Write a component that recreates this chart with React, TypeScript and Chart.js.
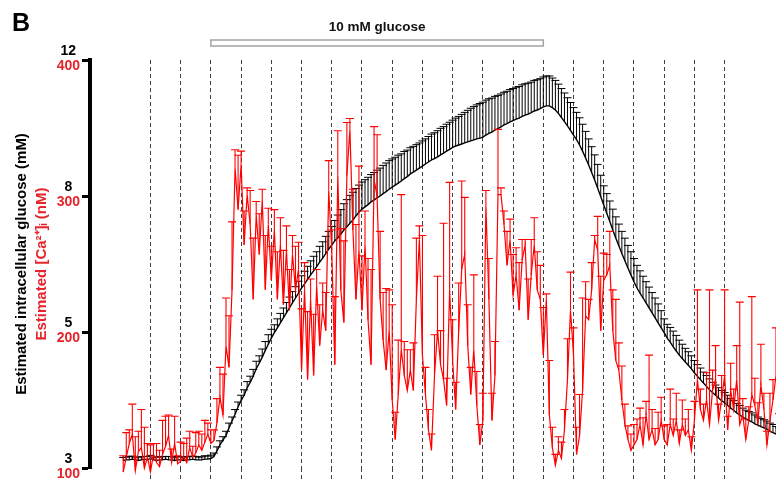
import React, { useEffect, useRef } from 'react';
import { Chart, registerables } from 'chart.js';

Chart.register(...registerables);

// ---------- axis / annotation values ----------
const CA_TICKS = [100, 200, 300, 400];          // nM, red labels
const GLUCOSE_TICKS = [3, 5, 8, 12];            // mM, black labels at the same heights
const X_MIN = 0;
const X_MAX = 22.7;                             // min
const DASH_FROM_MIN = 2;                        // first dashed line (one every minute)
const GLUCOSE_ON_MIN = 4;
const GLUCOSE_OFF_MIN = 15;
const GLUCOSE_LABEL = '10 mM glucose';
const PANEL_LABEL = 'B';
const TITLE_GLUCOSE = 'Estimated intracellular glucose (mM)';
const TITLE_CA = 'Estimated [Ca\u00B2\u207A]\u1D62 (nM)';
const FRAME_START_MIN = 1.1;
const FRAME_STEP_MIN = 0.1;

// ---------- series ----------
const GLUCOSE_MM = [
  3.11, 3.12, 3.12, 3.13, 3.12, 3.11, 3.12, 3.13, 3.12, 3.14, 3.12, 3.11, 3.12, 3.12, 3.13,
  3.12, 3.12, 3.11, 3.12, 3.12, 3.11, 3.12, 3.12, 3.13, 3.12, 3.12, 3.12, 3.13, 3.13, 3.14,
  3.17, 3.25, 3.34, 3.41, 3.48, 3.59, 3.69, 3.79, 3.90, 3.99,
  4.07, 4.18, 4.26, 4.35, 4.46, 4.54, 4.63, 4.73, 4.82, 4.91,
  4.99, 5.09, 5.20, 5.31, 5.42, 5.53, 5.64, 5.75, 5.86, 5.97,
  6.06, 6.16, 6.26, 6.35, 6.44, 6.54, 6.63, 6.73, 6.83, 6.92,
  7.01, 7.08, 7.16, 7.25, 7.32, 7.40, 7.47, 7.56, 7.64, 7.71,
  7.76, 7.81, 7.87, 7.91, 7.96, 8.00, 8.07, 8.13, 8.20, 8.26,
  8.32, 8.38, 8.44, 8.51, 8.57, 8.65, 8.70, 8.76, 8.82, 8.88,
  8.94, 9.00, 9.06, 9.10, 9.15, 9.21, 9.26, 9.32, 9.37, 9.43,
  9.47, 9.50, 9.53, 9.56, 9.59, 9.62, 9.65, 9.68, 9.70, 9.73,
  9.79, 9.84, 9.88, 9.94, 9.98, 10.03, 10.09, 10.13, 10.18, 10.22,
  10.26, 10.29, 10.34, 10.38, 10.41, 10.45, 10.50, 10.53, 10.57, 10.62,
  10.65, 10.65, 10.60, 10.53, 10.43, 10.31, 10.19, 10.06, 9.93, 9.79,
  9.66, 9.50, 9.32, 9.12, 8.91, 8.69, 8.47, 8.23, 7.99, 7.80,
  7.62, 7.44, 7.25, 7.07, 6.90, 6.73, 6.57, 6.41, 6.26, 6.11,
  5.97, 5.86, 5.75, 5.64, 5.53, 5.42, 5.31, 5.20, 5.09, 4.99,
  4.91, 4.85, 4.78, 4.72, 4.66, 4.61, 4.56, 4.51, 4.46, 4.40,
  4.35, 4.30, 4.25, 4.20, 4.15, 4.11, 4.07, 4.03, 3.99, 3.96,
  3.92, 3.88, 3.85, 3.81, 3.78, 3.75, 3.72, 3.70, 3.68, 3.65,
  3.63, 3.61, 3.59, 3.57, 3.54, 3.52, 3.50, 3.48,
];

const GLUCOSE_SEM = [
  0.045, 0.04, 0.05, 0.045, 0.04, 0.05, 0.045, 0.04, 0.05, 0.045, 0.04, 0.05, 0.045, 0.045, 0.04,
  0.05, 0.045, 0.04, 0.05, 0.045, 0.04, 0.05, 0.045, 0.045, 0.05, 0.04, 0.045, 0.05, 0.045, 0.05,
  0.05, 0.06, 0.06, 0.05, 0.06, 0.07, 0.06, 0.07, 0.07, 0.08,
  0.08, 0.09, 0.09, 0.10, 0.11, 0.11, 0.12, 0.13, 0.14, 0.15,
  0.17, 0.20, 0.21, 0.22, 0.23, 0.24, 0.25, 0.25, 0.26, 0.27,
  0.28, 0.29, 0.31, 0.32, 0.33, 0.35, 0.36, 0.38, 0.39, 0.41,
  0.45, 0.50, 0.54, 0.58, 0.60, 0.62, 0.64, 0.66, 0.68, 0.70,
  0.72, 0.74, 0.76, 0.78, 0.80, 0.82, 0.83, 0.84, 0.84, 0.83,
  0.82, 0.82, 0.80, 0.80, 0.78, 0.77, 0.76, 0.75, 0.74, 0.74,
  0.74, 0.75, 0.76, 0.76, 0.77, 0.78, 0.78, 0.79, 0.80, 0.80,
  0.82, 0.84, 0.87, 0.90, 0.93, 0.96, 0.98, 1.00, 1.02, 1.03,
  1.03, 1.02, 1.00, 0.99, 0.98, 0.97, 0.96, 0.95, 0.95, 0.94,
  0.94, 0.93, 0.93, 0.92, 0.91, 0.90, 0.90, 0.89, 0.88, 0.88,
  0.88, 0.88, 0.87, 0.87, 0.86, 0.85, 0.84, 0.83, 0.82, 0.81,
  0.80, 0.80, 0.79, 0.78, 0.77, 0.76, 0.74, 0.70, 0.62, 0.50,
  0.45, 0.45, 0.46, 0.47, 0.48, 0.49, 0.50, 0.50, 0.51, 0.51,
  0.50, 0.49, 0.48, 0.47, 0.46, 0.45, 0.44, 0.42, 0.38, 0.30,
  0.26, 0.25, 0.24, 0.23, 0.22, 0.21, 0.20, 0.20, 0.19, 0.18,
  0.17, 0.17, 0.16, 0.16, 0.16, 0.15, 0.15, 0.15, 0.15, 0.15,
  0.15, 0.14, 0.14, 0.14, 0.14, 0.13, 0.13, 0.13, 0.13, 0.13,
  0.12, 0.12, 0.12, 0.12, 0.12, 0.12, 0.11, 0.11,
];

const CA_NM = [
  97, 108, 118, 125, 98, 112, 115, 100, 108, 97, 110, 104, 101, 110, 116,
  124, 104, 118, 103, 105, 108, 104, 115, 108, 111, 117, 113, 119, 125, 118,
  120, 133, 152, 139, 190, 174, 231, 321, 290, 323,
  264, 301, 279, 224, 286, 257, 297, 231, 279, 238,
  275, 224, 264, 220, 260, 216, 257, 231, 246, 172,
  231, 165, 224, 168, 234, 190, 216, 201, 304, 260,
  176, 315, 231, 207, 315, 349, 275, 224, 260, 216,
  264, 209, 176, 312, 300, 224, 194, 172, 201, 150,
  121, 154, 187, 168, 157, 172, 157, 224, 268, 183,
  154, 128, 113, 168, 201, 176, 165, 146, 231, 179,
  143, 201, 246, 257, 190, 154, 187, 146, 117, 135,
  293, 224, 135, 168, 301, 301, 279, 249, 268, 227,
  242, 216, 253, 264, 209, 242, 264, 231, 224, 183,
  224, 139, 115, 102, 113, 107, 128, 165, 216, 183,
  110, 124, 157, 212, 209, 231, 268, 260, 201, 238,
  242, 249, 201, 179, 172, 150, 132, 121, 113, 117,
  121, 132, 117, 139, 121, 128, 117, 121, 135, 121,
  117, 132, 124, 135, 118, 132, 124, 128, 113, 135,
  165, 143, 135, 150, 132, 157, 165, 135, 150, 168,
  128, 157, 143, 165, 132, 139, 121, 135, 154, 146,
  133, 161, 143, 117, 135, 150, 168, 128,
];

const CA_SEM = [
  12, 18, 10, 22, 25, 15, 28, 30, 10, 20, 8, 14, 12, 25, 22,
  15, 10, 20, 6, 14, 10, 18, 12, 8, 15, 10, 12, 16, 8, 10,
  8, 18, 22, 30, 35, 38, 50, 13, 40, 10,
  25, 5, 25, 45, 10, 30, 8, 40, 12, 25,
  15, 35, 20, 40, 18, 30, 14, 32, 20, 45,
  20, 50, 15, 45, 12, 30, 20, 28, 22, 15,
  50, 33, 45, 60, 39, 8, 30, 55, 62, 40,
  25, 45, 70, 39, 45, 50, 35, 60, 30, 70,
  20, 40, 114, 25, 30, 15, 35, 45, 10, 88,
  20, 15, 12, 30, 40, 25, 115, 20, 79, 30,
  20, 35, 65, 42, 30, 20, 55, 25, 15, 20,
  11, 30, 20, 25, 48, 5, 10, 25, 15, 30,
  20, 35, 15, 4, 30, 26, 20, 28, 25, 35,
  4, 40, 15, 8, 10, 12, 15, 30, 28, 20,
  20, 30, 68, 25, 15, 20, 3, 25, 40, 20,
  15, 25, 30, 45, 20, 25, 15, 10, 12, 15,
  15, 12, 20, 10, 62, 15, 12, 20, 17, 10,
  15, 26, 12, 20, 10, 18, 12, 15, 10, 14,
  66, 15, 12, 20, 99, 15, 25, 12, 18, 63,
  10, 20, 15, 25, 90, 12, 15, 10, 72, 20,
  15, 30, 12, 10, 20, 15, 35, 12,
];

// ---------- styling ----------
const FONT = '"Liberation Sans", Arial, Helvetica, sans-serif';
const RED_LINE = '#ff0000';
const RED_TEXT = '#e5242b';

// glucose (mM) -> position on the shared axis, through the paired tick values
function glucoseToAxis(g: number): number {
  const n = GLUCOSE_TICKS.length;
  let k = 0;
  while (k < n - 2 && g > GLUCOSE_TICKS[k + 1]) k++;
  const g0 = GLUCOSE_TICKS[k];
  const g1 = GLUCOSE_TICKS[k + 1];
  const c0 = CA_TICKS[k];
  const c1 = CA_TICKS[k + 1];
  return c0 + ((g - g0) * (c1 - c0)) / (g1 - g0);
}

const errorBarPlugin = {
  id: 'errorBars',
  afterDatasetDraw(chart: any, args: any) {
    const ds: any = chart.data.datasets[args.index];
    const upper: number[] | undefined = ds.errUpper;
    if (!upper) return;
    const meta = args.meta;
    const yScale = chart.scales[meta.yAxisID];
    const ctx = chart.ctx;
    ctx.save();
    ctx.strokeStyle = ds.errColor;
    ctx.lineWidth = ds.errWidth;
    ctx.beginPath();
    meta.data.forEach((pt: any, i: number) => {
      const x = pt.x;
      const y0 = pt.y;
      const y1 = yScale.getPixelForValue(upper[i]);
      ctx.moveTo(x, y0);
      ctx.lineTo(x, y1);
      ctx.moveTo(x - 4, y1);
      ctx.lineTo(x + 4, y1);
    });
    ctx.stroke();
    ctx.restore();
  },
};

const stimulusPlugin = {
  id: 'stimulus',
  afterDraw(chart: any) {
    const xs = chart.scales.x;
    const ctx = chart.ctx;
    const x1 = xs.getPixelForValue(GLUCOSE_ON_MIN);
    const x2 = xs.getPixelForValue(GLUCOSE_OFF_MIN);
    ctx.save();
    ctx.fillStyle = '#ffffff';
    ctx.strokeStyle = '#a3a3a3';
    ctx.lineWidth = 1.5;
    ctx.fillRect(x1, 40, x2 - x1, 6);
    ctx.strokeRect(x1, 40, x2 - x1, 6);
    ctx.fillStyle = '#111111';
    ctx.font = `bold 13.5px ${FONT}`;
    ctx.textAlign = 'center';
    ctx.textBaseline = 'alphabetic';
    ctx.fillText(GLUCOSE_LABEL, (x1 + x2) / 2, 31);
    ctx.restore();
  },
};

export default function App() {
  const canvasRef = useRef<HTMLCanvasElement | null>(null);

  useEffect(() => {
    if (!canvasRef.current) return;
    Chart.defaults.font.family = FONT;

    const times = CA_NM.map((_, i) => +(FRAME_START_MIN + i * FRAME_STEP_MIN).toFixed(2));
    const glucosePts = GLUCOSE_MM.map((g, i) => ({ x: times[i], y: glucoseToAxis(g) }));
    const glucoseUpper = GLUCOSE_MM.map((g, i) => glucoseToAxis(g + GLUCOSE_SEM[i]));
    const caPts = CA_NM.map((v, i) => ({ x: times[i], y: v }));
    const caUpper = CA_NM.map((v, i) => v + CA_SEM[i]);

    const labelFont = { size: 14, weight: 'bold' as const };
    const titleFont = { size: 15, weight: 'bold' as const };

    const chart = new Chart(canvasRef.current, {
      type: 'line',
      data: {
        datasets: [
          {
            label: 'glucose',
            data: glucosePts,
            yAxisID: 'yg',
            borderColor: '#000000',
            borderWidth: 1.4,
            pointRadius: 0,
            tension: 0,
            order: 2,
            clip: false,
            errUpper: glucoseUpper,
            errColor: '#000000',
            errWidth: 1,
          } as any,
          {
            label: 'calcium',
            data: caPts,
            yAxisID: 'y',
            borderColor: RED_LINE,
            borderWidth: 1.2,
            pointRadius: 0,
            tension: 0,
            order: 1,
            clip: false,
            errUpper: caUpper,
            errColor: RED_LINE,
            errWidth: 1.1,
          } as any,
        ],
      },
      options: {
        animation: false,
        responsive: false,
        maintainAspectRatio: false,
        devicePixelRatio: 1,
        events: [],
        layout: { padding: { left: 12, right: 0, top: 0, bottom: 4 } },
        plugins: {
          legend: { display: false },
          tooltip: { enabled: false },
          title: {
            display: true,
            text: PANEL_LABEL,
            align: 'start',
            color: '#000000',
            font: { size: 25, weight: 'bold' },
            padding: { top: 9, bottom: 21 },
          },
        },
        scales: {
          x: {
            type: 'linear',
            min: X_MIN,
            max: X_MAX,
            ticks: { display: false, stepSize: 1 },
            afterBuildTicks: (scale: any) => {
              scale.ticks = scale.ticks.filter((t: any) => t.value >= DASH_FROM_MIN);
            },
            afterFit: (scale: any) => {
              scale.height = 12;
            },
            grid: {
              display: true,
              drawOnChartArea: true,
              drawTicks: true,
              tickLength: 12,
              color: '#404040',
              lineWidth: 1,
              tickColor: '#404040',
              tickWidth: 1,
              tickBorderDash: [4, 3],
            },
            border: { display: false, dash: [4, 3] },
          },
          // glucose labels: zero-width axis next to the plot, labels mirrored back to the left
          yg: {
            type: 'linear',
            position: 'left',
            weight: 0,
            min: CA_TICKS[0],
            max: CA_TICKS[CA_TICKS.length - 1],
            afterBuildTicks: (scale: any) => {
              scale.ticks = CA_TICKS.map((v) => ({ value: v }));
            },
            afterFit: (scale: any) => {
              scale.width = 0;
            },
            ticks: {
              color: '#000000',
              font: labelFont,
              mirror: true,
              padding: -29.5,
              labelOffset: -9,
              crossAlign: 'center',
              callback: (v: any) => {
                const k = CA_TICKS.indexOf(Number(v));
                return k >= 0 ? String(GLUCOSE_TICKS[k]) : '';
              },
            },
            grid: { display: false, drawTicks: false },
            border: { display: false },
          },
          // calcium axis: red labels, thick black spine, red title
          y: {
            type: 'linear',
            position: 'left',
            weight: 1,
            min: CA_TICKS[0],
            max: CA_TICKS[CA_TICKS.length - 1],
            afterBuildTicks: (scale: any) => {
              scale.ticks = CA_TICKS.map((v) => ({ value: v }));
            },
            afterFit: (scale: any) => {
              scale.width = 57;
            },
            ticks: {
              color: RED_TEXT,
              font: labelFont,
              padding: 2,
              labelOffset: 6,
            },
            grid: {
              display: true,
              drawOnChartArea: false,
              drawTicks: true,
              tickLength: 8,
              tickWidth: 3,
              tickColor: '#000000',
            },
            border: { display: true, color: '#000000', width: 4 },
            title: {
              display: true,
              text: TITLE_CA,
              color: RED_TEXT,
              font: titleFont,
              padding: { top: 0, bottom: 0 },
            },
          },
          yt: {
            type: 'linear',
            position: 'left',
            weight: 2,
            min: CA_TICKS[0],
            max: CA_TICKS[CA_TICKS.length - 1],
            afterFit: (scale: any) => {
              scale.width = 21;
            },
            ticks: { display: false },
            grid: { display: false, drawTicks: false },
            border: { display: false },
            title: {
              display: true,
              text: TITLE_GLUCOSE,
              color: '#000000',
              font: titleFont,
              padding: { top: 1, bottom: 0 },
            },
          },
        },
      } as any,
      plugins: [errorBarPlugin, stimulusPlugin],
    });

    return () => {
      chart.destroy();
    };
  }, []);

  return (
    <div style={{ position: 'fixed', left: 0, top: 0, width: 776, height: 484, background: '#ffffff' }}>
      <canvas ref={canvasRef} width={776} height={484} style={{ display: 'block', width: 776, height: 484 }} />
    </div>
  );
}
